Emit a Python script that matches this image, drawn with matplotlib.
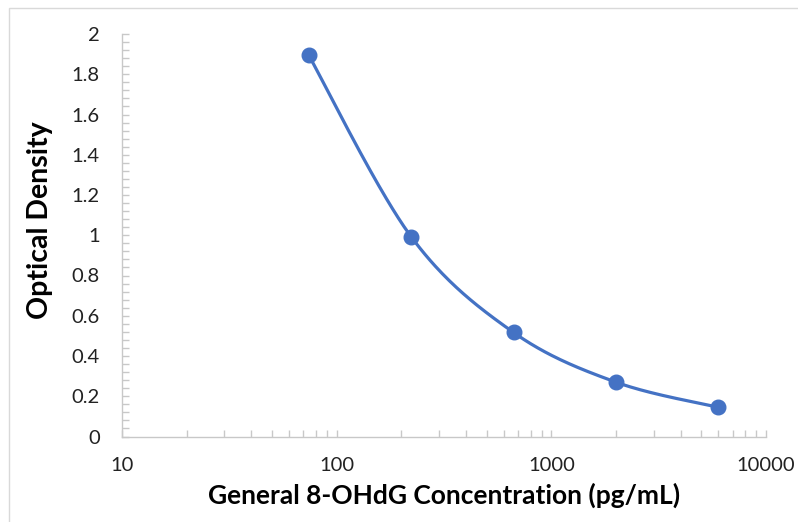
import numpy as np
import matplotlib
matplotlib.use("Agg")
import matplotlib.pyplot as plt
from matplotlib.patches import Rectangle
from matplotlib.ticker import LogLocator, MultipleLocator, FixedLocator

plt.rcParams['font.family'] = ['Lato', 'DejaVu Sans']

# 数据
concentration = [74.07, 222.2, 666.7, 2000, 6000]
optical_density = [1.895, 0.993, 0.517, 0.27, 0.145]
x_ticks = [10, 100, 1000, 10000]
x_labels = ["10", "100", "1000", "10000"]
y_ticks = [0, 0.2, 0.4, 0.6, 0.8, 1, 1.2, 1.4, 1.6, 1.8, 2]
y_labels = ["0", "0.2", "0.4", "0.6", "0.8", "1", "1.2", "1.4", "1.6", "1.8", "2"]

line_color = "#4472C4"
axis_color = "#c8c8c8"

fig = plt.figure(figsize=(7.98, 5.22), dpi=100)
W, H = 798, 522
ax = fig.add_axes([122 / W, 1 - 436.5 / H, (766 - 122) / W, (436.5 - 34) / H])
ax.set_xscale("log")
ax.set_xlim(10, 10000)
ax.set_ylim(0, 2)

# Excel式平滑曲线 (在像素空间做 Catmull-Rom)
pts = ax.transData.transform(np.column_stack([concentration, optical_density]))
ext = np.vstack([pts[0], pts, pts[-1]])
curve = []
for i in range(1, len(ext) - 2):
    p0, p1, p2, p3 = ext[i - 1], ext[i], ext[i + 1], ext[i + 2]
    c1 = p1 + (p2 - p0) / 6
    c2 = p2 - (p3 - p1) / 6
    t = np.linspace(0, 1, 60)[:, None]
    seg = (1 - t) ** 3 * p1 + 3 * (1 - t) ** 2 * t * c1 + 3 * (1 - t) * t ** 2 * c2 + t ** 3 * p2
    curve.append(seg)
curve = ax.transData.inverted().transform(np.vstack(curve))
ax.plot(curve[:, 0], curve[:, 1], color=line_color, lw=2.3, solid_capstyle="round", zorder=3)
ax.plot(concentration, optical_density, "o", color=line_color, ms=10.5, zorder=4)

# 坐标轴
for s in ["top", "right"]:
    ax.spines[s].set_visible(False)
for s in ["left", "bottom"]:
    ax.spines[s].set_color(axis_color)
    ax.spines[s].set_linewidth(1)

ax.xaxis.set_major_locator(FixedLocator(x_ticks))
ax.set_xticklabels(x_labels)
ax.xaxis.set_minor_locator(LogLocator(base=10, subs=np.arange(2, 10)))
ax.xaxis.set_minor_formatter(plt.NullFormatter())
ax.yaxis.set_major_locator(FixedLocator(y_ticks))
ax.set_yticklabels(y_labels)
ax.yaxis.set_minor_locator(MultipleLocator(0.04))

ax.tick_params(which="both", direction="in", color=axis_color, width=1, length=5,
               labelsize=14.5, labelcolor="#222222")
ax.tick_params(axis="x", which="major", pad=15)
ax.tick_params(axis="y", which="major", pad=16)

ax.set_xlabel("General 8-OHdG Concentration (pg/mL)", fontsize=19, fontweight="bold",
              labelpad=6)
ax.set_ylabel("Optical Density", fontsize=20.5, fontweight="bold")
ax.yaxis.set_label_coords((53 - 122) / (766 - 122), (436.5 - 220) / (436.5 - 34))

# 图表外框
fig.patches.append(Rectangle((9 / W, -0.02), 1.05, 1 - 8 / H + 0.02, transform=fig.transFigure,
                             fill=False, edgecolor="#d9d9d9", lw=1))

fig.savefig("out.png", dpi=100)
